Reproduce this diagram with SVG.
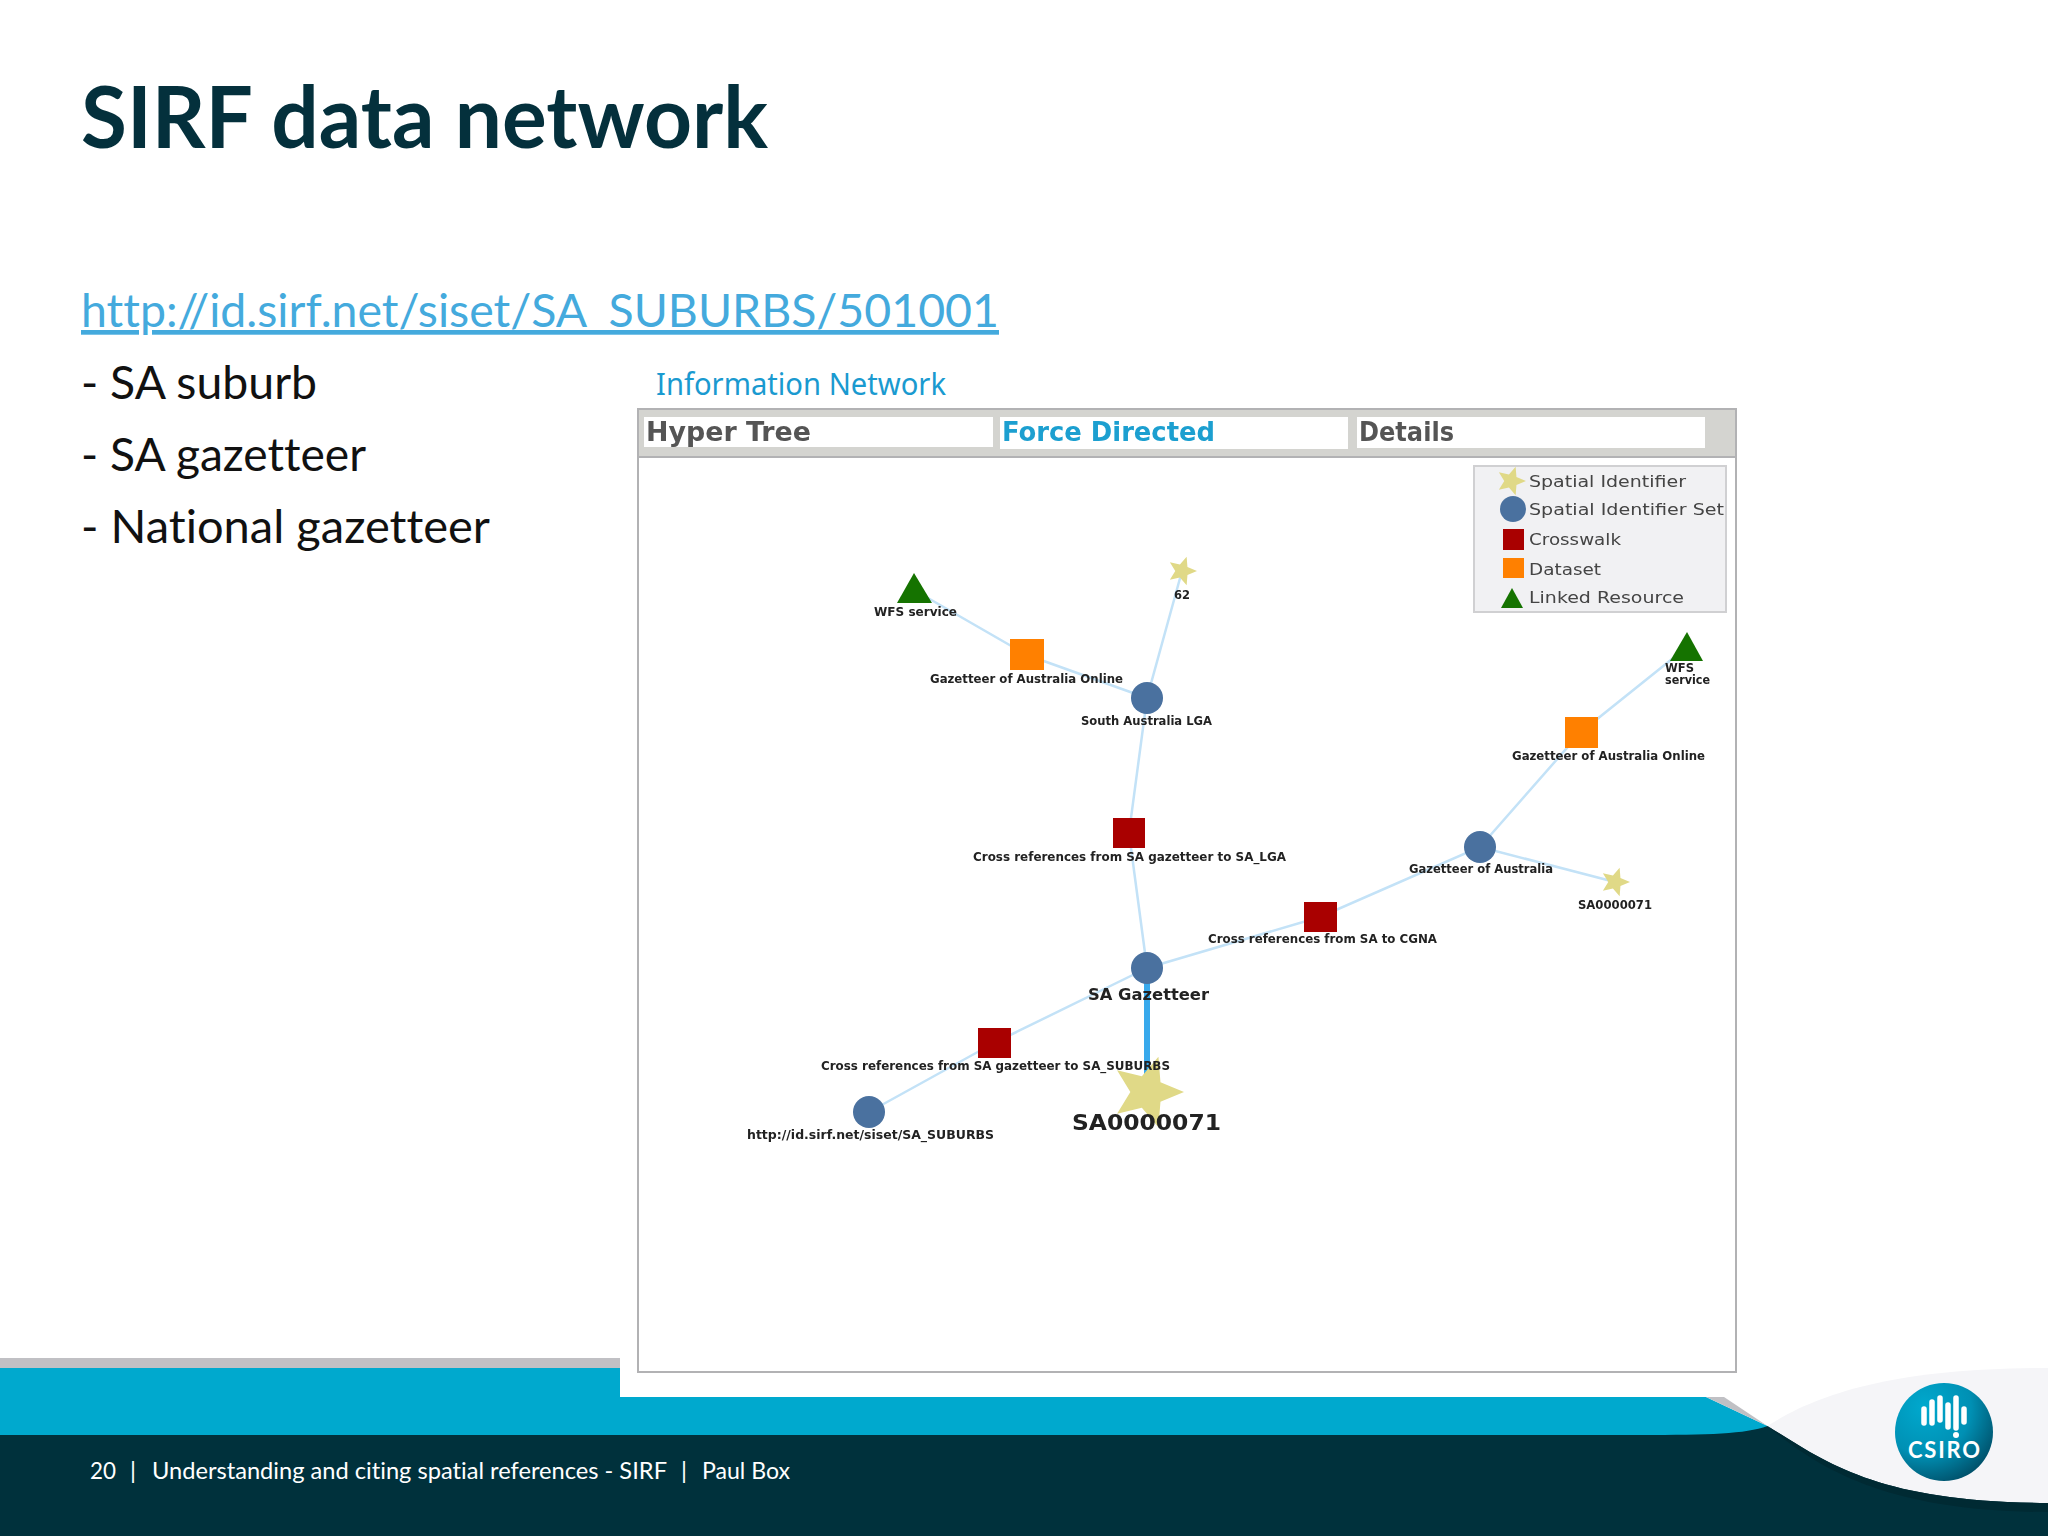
<svg xmlns="http://www.w3.org/2000/svg" width="2048" height="1536" viewBox="0 0 2048 1536">
<style>
.lato{font-family:"Lato","Noto Sans",sans-serif;font-variant-ligatures:none}
.title{font-size:86px;font-weight:700;fill:#04303c}
.body{font-size:47px;fill:#111}
.tab{font-family:"DejaVu Sans",sans-serif;font-size:26px;font-weight:700;filter:url(#soft)}
.leg{font-family:"DejaVu Sans",sans-serif;font-size:15.5px;fill:#444;filter:url(#soft)}
.lab{font-family:"DejaVu Sans",sans-serif;font-size:11.5px;font-weight:700;fill:#222;filter:url(#soft)}
.edge{stroke:#c3e2f7;stroke-width:2.5;fill:none}
.sis{fill:#4a719f}.cw{fill:#a90000}.ds{fill:#ff8000}.lr{fill:#157300}.si{fill:#e0d987}
.bar{stroke:#fff;stroke-width:5.5;stroke-linecap:round}
</style>
<defs>
<filter id="soft" x="-5%" y="-20%" width="110%" height="140%"><feGaussianBlur stdDeviation="0.35"/></filter>
<polygon id="star" points="1,0 0.364,0.264 0.309,0.951 -0.139,0.428 -0.809,0.588 -0.45,0 -0.809,-0.588 -0.139,-0.428 0.309,-0.951 0.364,-0.264"/>
<radialGradient id="logo" cx="0.3" cy="0.25" r="0.95">
<stop offset="0" stop-color="#00a9ce"/><stop offset="0.5" stop-color="#0090b4"/><stop offset="1" stop-color="#00394f"/>
</radialGradient>
</defs>
<rect width="2048" height="1536" fill="#fff"/>

<g id="footer">
<rect x="0" y="1358" width="620" height="11" fill="#c0c0c4"/>
<path d="M0 1368H620V1397H1706L1767.500 1426V1440H0Z" fill="#00a9ce"/>
<path d="M1706 1397H1724L1767.500 1426Z" fill="#c0c0c4"/>
<path d="M1767.500 1426C1820 1392 1900 1368 2048 1368V1510H1767.500Z" fill="#f5f5f8"/>
<path d="M0 1435H1640C1710 1435 1745 1434 1767.500 1426C1830 1465 1880 1502 2048 1503V1536H0Z" fill="#00313c"/>
<path d="M1767.500 1426C1830 1465 1880 1502 2048 1503V1512C1890 1512 1820 1470 1767.500 1426Z" fill="#002a33"/>
<text class="lato" x="90" y="1479" font-size="24" fill="#fff" textLength="26" lengthAdjust="spacingAndGlyphs">20</text>
<text class="lato" x="130" y="1479" font-size="24" fill="#fff">|</text>
<text class="lato" x="152" y="1479" font-size="24" fill="#fff" textLength="515" lengthAdjust="spacingAndGlyphs">Understanding and citing spatial references - SIRF</text>
<text class="lato" x="681" y="1479" font-size="24" fill="#fff">|</text>
<text class="lato" x="702" y="1479" font-size="24" fill="#fff" textLength="88" lengthAdjust="spacingAndGlyphs">Paul Box</text>
</g>

<g id="csiro-logo">
<circle cx="1944" cy="1432" r="49" fill="url(#logo)"/>
<path class="bar" d="M1924 1409V1423M1932 1402V1423M1940 1398V1420M1948 1405V1427M1956 1398V1428M1964 1409V1422"/>
<circle cx="1956" cy="1435" r="3" fill="#fff"/>
<text class="lato" x="1908" y="1458" font-size="22" font-weight="700" fill="#fff" textLength="72" lengthAdjust="spacing">CSIRO</text>
</g>

<g id="slide-text">
<text class="lato title" x="81" y="148" textLength="687" lengthAdjust="spacingAndGlyphs">SIRF data network</text>
<text class="lato body" x="81" y="327" style="fill:#44aadd" text-decoration="underline" textLength="918" lengthAdjust="spacingAndGlyphs">http://id.sirf.net/siset/SA_SUBURBS/501001</text>
<text class="lato body" x="81" y="399" textLength="236" lengthAdjust="spacingAndGlyphs">- SA suburb</text>
<text class="lato body" x="81" y="471" textLength="285" lengthAdjust="spacingAndGlyphs">- SA gazetteer</text>
<text class="lato body" x="81" y="543" textLength="409" lengthAdjust="spacingAndGlyphs">- National gazetteer</text>
<text x="656" y="395" font-family="'Noto Sans',sans-serif" font-size="30" fill="#1a9ad0" textLength="290" lengthAdjust="spacingAndGlyphs">Information Network</text>
</g>

<g id="panel">
<rect x="638" y="409" width="1098" height="963" fill="#fff" stroke="#b2b2b4" stroke-width="2"/>
<rect x="638" y="409" width="1098" height="48" fill="#d4d4d0" stroke="#b2b2b4" stroke-width="2"/>
<rect x="644" y="417" width="349" height="30" fill="#fff"/>
<rect x="1000" y="417" width="348" height="32" fill="#fff"/>
<rect x="1357" y="417" width="348" height="31" fill="#fff"/>
<text class="tab" x="646" y="441" fill="#555" textLength="165" lengthAdjust="spacingAndGlyphs">Hyper Tree</text>
<text class="tab" x="1002" y="441" fill="#1a9fd0" textLength="213" lengthAdjust="spacingAndGlyphs">Force Directed</text>
<text class="tab" x="1359" y="441" fill="#555" textLength="95" lengthAdjust="spacingAndGlyphs">Details</text>
</g>

<g id="legend">
<rect x="1474" y="466" width="252" height="146" fill="#f1f1f3" stroke="#d0d0d2" stroke-width="2"/>
<use href="#star" class="si" transform="translate(1511 481) scale(15)"/>
<circle class="sis" cx="1513" cy="509" r="13"/>
<rect class="cw" x="1503" y="529" width="21" height="21"/>
<rect class="ds" x="1503" y="558" width="21" height="20"/>
<polygon class="lr" points="1512,588 1501,608 1523,608"/>
<text class="leg" x="1529" y="487" textLength="157" lengthAdjust="spacingAndGlyphs">Spatial Identifier</text>
<text class="leg" x="1529" y="515" textLength="195" lengthAdjust="spacingAndGlyphs">Spatial Identifier Set</text>
<text class="leg" x="1529" y="545" textLength="92" lengthAdjust="spacingAndGlyphs">Crosswalk</text>
<text class="leg" x="1529" y="575" textLength="72" lengthAdjust="spacingAndGlyphs">Dataset</text>
<text class="leg" x="1529" y="603" textLength="155" lengthAdjust="spacingAndGlyphs">Linked Resource</text>
</g>

<g id="connectors">
<path class="edge" d="M914 590L1027 655L1147 698"/>
<path class="edge" d="M1182 571L1147 698L1129 833L1147 968"/>
<path class="edge" d="M1147 968L1320 917L1480 847L1581 732L1687 647"/>
<path class="edge" d="M1480 847L1615 882"/>
<path class="edge" d="M1147 968L994 1043L869 1112"/>
<path d="M1147 968V1092" fill="none" stroke="#38a9ec" stroke-width="6"/>
</g>

<g id="node-wfs-1"><polygon class="lr" points="914,573 897,603 932,603"/><text class="lab" x="874" y="616" textLength="83" lengthAdjust="spacingAndGlyphs">WFS service</text></g>
<g id="node-star-62"><use href="#star" class="si" transform="translate(1182 571) scale(15)"/><text class="lab" x="1174" y="599" textLength="16" lengthAdjust="spacingAndGlyphs">62</text></g>
<g id="node-dataset-1"><rect class="ds" x="1010" y="639" width="34" height="31"/><text class="lab" x="930" y="683" textLength="193" lengthAdjust="spacingAndGlyphs">Gazetteer of Australia Online</text></g>
<g id="node-lga"><circle class="sis" cx="1147" cy="698" r="16"/><text class="lab" x="1081" y="725" textLength="131" lengthAdjust="spacingAndGlyphs">South Australia LGA</text></g>
<g id="node-wfs-2"><polygon class="lr" points="1687,632 1670,661 1703,661"/><text class="lab" x="1665" y="672" textLength="29" lengthAdjust="spacingAndGlyphs">WFS</text><text class="lab" x="1665" y="684" textLength="45" lengthAdjust="spacingAndGlyphs">service</text></g>
<g id="node-dataset-2"><rect class="ds" x="1565" y="717" width="33" height="31"/><text class="lab" x="1512" y="760" textLength="193" lengthAdjust="spacingAndGlyphs">Gazetteer of Australia Online</text></g>
<g id="node-crosswalk-lga"><rect class="cw" x="1113" y="818" width="32" height="30"/><text class="lab" x="973" y="861" textLength="313" lengthAdjust="spacingAndGlyphs">Cross references from SA gazetteer to SA_LGA</text></g>
<g id="node-gazetteer-australia"><circle class="sis" cx="1480" cy="847" r="16"/><text class="lab" x="1409" y="873" textLength="144" lengthAdjust="spacingAndGlyphs">Gazetteer of Australia</text></g>
<g id="node-star-right"><use href="#star" class="si" transform="translate(1615 882) scale(15)"/><text class="lab" x="1578" y="909" textLength="74" lengthAdjust="spacingAndGlyphs">SA0000071</text></g>
<g id="node-crosswalk-cgna"><rect class="cw" x="1304" y="902" width="33" height="30"/><text class="lab" x="1208" y="943" textLength="229" lengthAdjust="spacingAndGlyphs">Cross references from SA to CGNA</text></g>
<g id="node-sa-gazetteer"><circle class="sis" cx="1147" cy="968" r="16"/><text class="lab" x="1088" y="1000" style="font-size:15px" textLength="121" lengthAdjust="spacingAndGlyphs">SA Gazetteer</text></g>
<g id="node-crosswalk-suburbs"><rect class="cw" x="978" y="1028" width="33" height="30"/></g>
<g id="node-suburbs"><circle class="sis" cx="869" cy="1112" r="16"/><text class="lab" x="747" y="1139" textLength="247" lengthAdjust="spacingAndGlyphs">http://id.sirf.net/siset/SA_SUBURBS</text></g>
<g id="node-sa0000071"><use href="#star" class="si" transform="translate(1147 1092) scale(37)"/><text class="lab" x="1072" y="1130" style="font-size:21px" textLength="149" lengthAdjust="spacingAndGlyphs">SA0000071</text></g>
<text class="lab" x="821" y="1070" textLength="349" lengthAdjust="spacingAndGlyphs">Cross references from SA gazetteer to SA_SUBURBS</text>
</svg>
